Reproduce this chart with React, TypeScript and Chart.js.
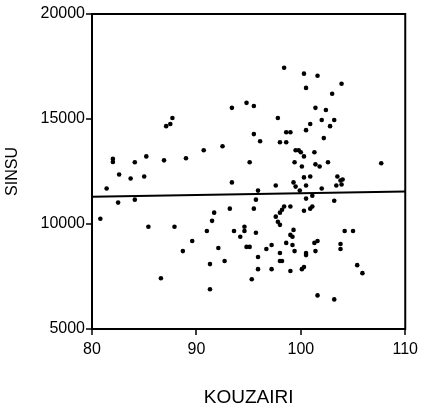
import React, { useEffect, useRef } from "react";
import { Chart, registerables } from "chart.js";

Chart.register(...registerables);

// KOUZAIRI (x) and SINSU (y) observations
const kouzairi: number[] = [
  87.7, 87.5, 87.1, 82.0, 82.0, 84.1, 85.2, 86.9, 89.0, 90.7, 82.6, 83.7, 85.0, 81.4, 82.5, 84.1, 80.8, 85.4, 87.9, 89.6, 88.7, 86.6,
  98.4, 93.4, 94.8, 95.5, 97.8, 95.5, 96.1, 98.6, 99.0, 98.0, 98.6, 92.5, 95.1, 99.4, 93.4, 99.3, 97.6,
  95.9, 99.5, 95.7, 93.2, 95.5, 91.7, 91.5, 91.0, 93.6, 94.6, 94.6, 94.2, 95.7, 92.1, 94.8, 95.1, 91.3, 92.7, 95.9, 96.7, 97.2,
  95.9, 97.2, 95.3, 91.3, 98.0, 98.0, 98.2, 99.0, 98.6, 99.2, 99.4, 99.0, 99.2, 99.3, 97.6, 97.8, 98.0, 98.0, 98.2, 98.4, 99.0,
  100.3, 101.6, 103.9, 100.5, 103.0, 101.4, 102.4, 100.9, 100.5, 102.0, 103.2, 102.8, 102.2, 99.5, 99.8, 100.0, 101.3, 100.3,
  100.1, 101.4, 101.8, 102.6, 107.7, 100.3, 100.9, 103.5, 103.8, 104.0, 103.9, 100.5, 103.4,
  102.0, 99.9, 101.1, 100.5, 103.2, 100.9, 101.1, 100.3, 104.2, 105.0, 101.3, 101.6, 101.4, 100.5, 100.5, 103.8, 103.8,
  100.1, 100.3, 105.4, 105.9, 101.6, 103.2,
];

const sinsu: number[] = [
  15050, 14760, 14660, 13100, 12950, 12940, 13220, 13030, 13130, 13510, 12360, 12170, 12260, 11690, 11020, 11160, 10250, 9870, 9870, 9190, 8710, 7420,
  17440, 15530, 15770, 15620, 15050, 14280, 13940, 14370, 14370, 13890, 13890, 13700, 12940, 12940, 11980, 11980, 11830,
  11590, 11780, 11160, 10730, 10730, 10540, 10150, 9670, 9670, 9870, 9670, 9390, 9580, 8860, 8910, 8910, 8090, 8240, 8430, 8810, 9000,
  7850, 7850, 7370, 6890, 8620, 8240, 8240, 7760, 9100, 9000, 8710, 9480, 9390, 9720, 10350, 10110, 9960, 10540, 10680, 10830, 10830,
  17160, 17060, 16680, 16480, 16200, 15530, 15430, 14760, 14470, 14950, 14950, 14660, 14090, 13510, 13510, 13420, 13420, 13220,
  12740, 12840, 12740, 12940, 12890, 12220, 12260, 12260, 12070, 12120, 11880, 11830, 11830,
  11690, 11590, 11350, 11210, 11110, 10730, 10830, 10630, 9670, 9670, 9100, 9190, 8710, 8620, 8520, 9050, 8810,
  7850, 7950, 8040, 7660, 6600, 6410,
];

// Fitted linear trend, evaluated at the ends of the x range
const fitX: number[] = [80, 110];
const fitY: number[] = [11300, 11550];

const xTicks: number[] = [80, 90, 100, 110];
const yTicks: number[] = [5000, 10000, 15000, 20000];

const FONT = "'Liberation Sans', Arial, Helvetica, sans-serif";
const TICK_LEN = 6;

// Draws the closed frame round the plot area and the outward tick marks
const frameBox = {
  id: "frameBox",
  afterDraw(chart: any) {
    const { ctx, chartArea } = chart;
    const xs = chart.scales.x;
    const ys = chart.scales.y;
    ctx.save();
    ctx.strokeStyle = "#000";
    ctx.lineWidth = 2;
    ctx.strokeRect(chartArea.left, chartArea.top, chartArea.right - chartArea.left, chartArea.bottom - chartArea.top);
    ctx.lineWidth = 1.5;
    ctx.beginPath();
    xTicks.forEach((v) => {
      const px = Math.round(xs.getPixelForValue(v));
      ctx.moveTo(px, chartArea.bottom);
      ctx.lineTo(px, chartArea.bottom + TICK_LEN);
    });
    yTicks.forEach((v) => {
      const py = Math.round(ys.getPixelForValue(v));
      ctx.moveTo(chartArea.left, py);
      ctx.lineTo(chartArea.left - TICK_LEN, py);
    });
    ctx.stroke();
    ctx.restore();
  },
};

export default function App() {
  const canvasRef = useRef<HTMLCanvasElement | null>(null);

  useEffect(() => {
    if (!canvasRef.current) return;
    const points = kouzairi.map((x, i) => ({ x, y: sinsu[i] }));
    const fit = fitX.map((x, i) => ({ x, y: fitY[i] }));

    const chart = new Chart(canvasRef.current, {
      type: "scatter",
      data: {
        datasets: [
          {
            data: points,
            backgroundColor: "#000",
            borderWidth: 0,
            pointRadius: 2.3,
            pointHoverRadius: 2.3,
          },
          {
            data: fit,
            showLine: true,
            borderColor: "#000",
            borderWidth: 2,
            pointRadius: 0,
            pointHoverRadius: 0,
            fill: false,
          } as any,
        ],
      },
      plugins: [frameBox],
      options: {
        animation: false,
        responsive: false,
        devicePixelRatio: 1,
        events: [],
        layout: { padding: { top: 14, right: 16.5, bottom: 0, left: 0 } },
        plugins: { legend: { display: false }, tooltip: { enabled: false } },
        scales: {
          x: {
            type: "linear",
            min: 80,
            max: 110,
            afterFit: (s: any) => {
              s.height = 80;
            },
            afterBuildTicks: (s: any) => {
              s.ticks = xTicks.map((v) => ({ value: v }));
            },
            ticks: {
              color: "#000",
              font: { family: FONT, size: 16 },
              padding: 5,
              maxRotation: 0,
              callback: (v: any) => String(v),
            },
            grid: { display: true, drawOnChartArea: false, drawTicks: true, tickLength: TICK_LEN, color: "rgba(0,0,0,0)" },
            border: { display: false },
            title: {
              display: true,
              text: "KOUZAIRI",
              color: "#000",
              font: { family: FONT, size: 19 },
              padding: { top: 0, bottom: 0 },
            },
          },
          y: {
            type: "linear",
            min: 5000,
            max: 20000,
            afterFit: (s: any) => {
              s.width = 92;
            },
            afterBuildTicks: (s: any) => {
              s.ticks = yTicks.map((v) => ({ value: v }));
            },
            ticks: {
              color: "#000",
              font: { family: FONT, size: 16 },
              padding: 1,
              callback: (v: any) => String(v),
            },
            grid: { display: true, drawOnChartArea: false, drawTicks: true, tickLength: TICK_LEN, color: "rgba(0,0,0,0)" },
            border: { display: false },
            title: {
              display: true,
              text: "SINSU",
              color: "#000",
              font: { family: FONT, size: 16 },
              padding: { top: 3, bottom: 0 },
            },
          },
        },
      },
    });
    return () => chart.destroy();
  }, []);

  return (
    <div style={{ position: "absolute", left: 0, top: 0, width: 423, height: 409, background: "#fff" }}>
      <canvas ref={canvasRef} width={423} height={409} style={{ display: "block" }} />
    </div>
  );
}
